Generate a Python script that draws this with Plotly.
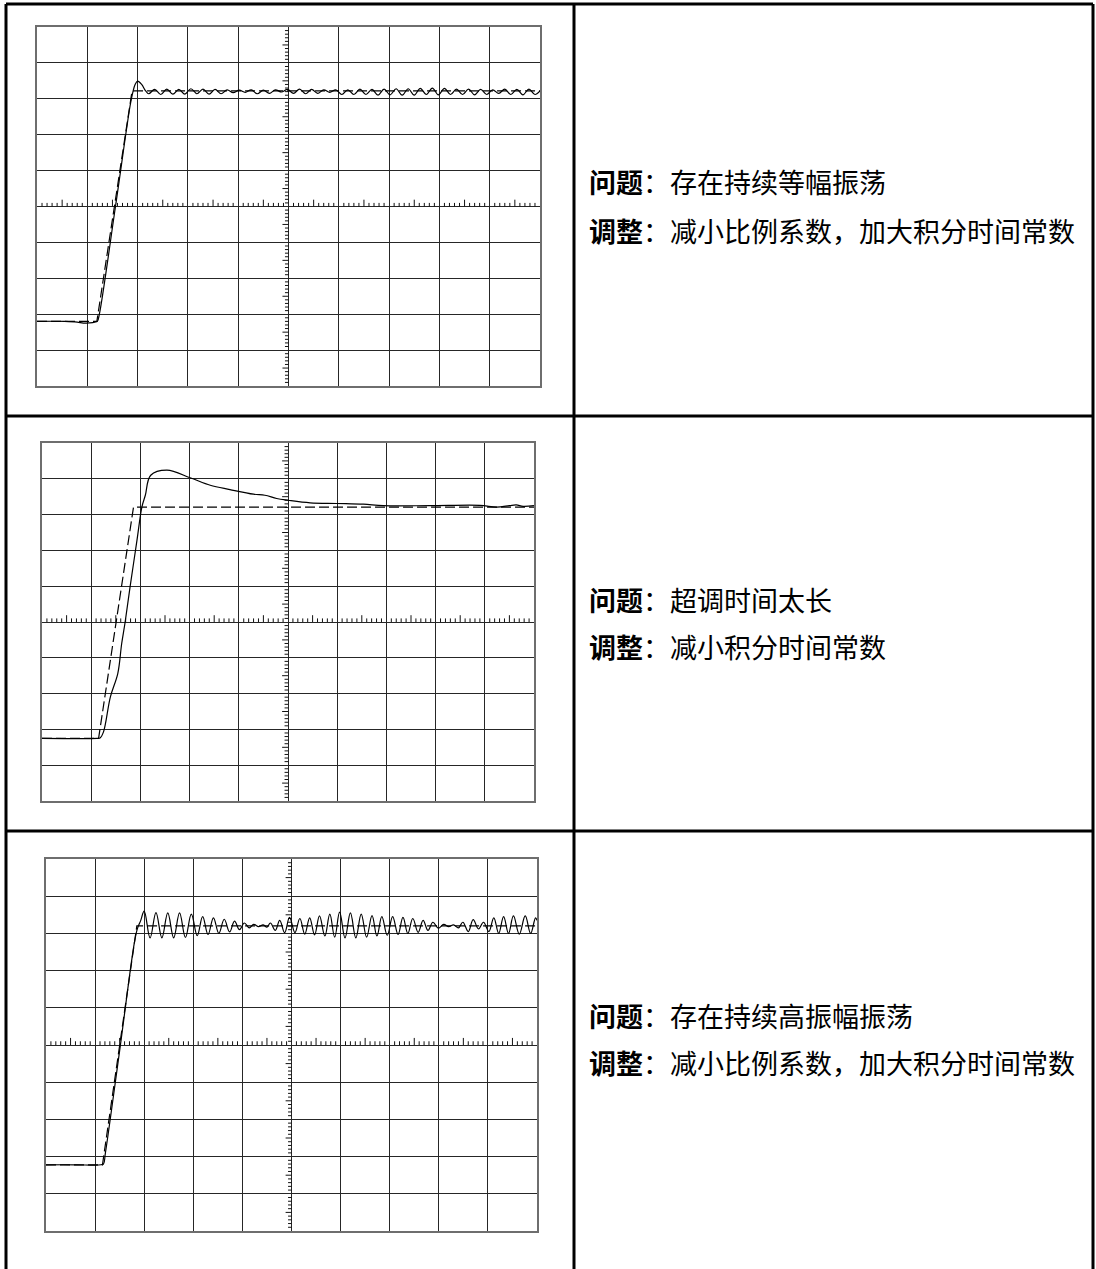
import numpy as np
import plotly.graph_objects as go

W, H = 1096, 1269

# ---------------- data (oscilloscope divisions, 10 x 10 grid) ----------------
p1_setpoint = [(0, 1.80), (1.19, 1.80), (1.89, 8.22), (10, 8.22)]
p1_response = [(0, 1.80), (0.55, 1.80), (0.80, 1.78), (0.92, 1.75), (1.05, 1.76),
               (1.15, 1.78), (1.20, 1.80), (1.24, 2.00), (1.56, 5.00), (1.85, 7.80),
               (1.90, 8.15), (1.95, 8.40), (2.00, 8.49), (2.08, 8.40), (2.16, 8.22),
               (2.22, 8.14), (2.34, 8.26),
               (2.46, 8.12), (2.58, 8.27), (2.70, 8.13), (2.82, 8.26), (2.94, 8.13),
               (3.06, 8.28), (3.18, 8.14), (3.30, 8.27), (3.42, 8.13), (3.54, 8.26),
               (3.66, 8.14), (3.78, 8.25), (3.90, 8.17), (4.02, 8.24), (4.14, 8.18),
               (4.26, 8.25), (4.38, 8.14), (4.50, 8.24), (4.62, 8.15), (4.74, 8.25),
               (4.86, 8.19), (4.98, 8.26), (5.10, 8.15), (5.22, 8.27), (5.34, 8.14),
               (5.46, 8.26), (5.58, 8.15), (5.70, 8.25), (5.82, 8.18), (5.94, 8.25),
               (6.06, 8.12), (6.18, 8.25), (6.30, 8.12), (6.42, 8.27), (6.54, 8.12),
               (6.66, 8.26), (6.78, 8.10), (6.90, 8.27), (7.02, 8.11), (7.14, 8.28),
               (7.26, 8.10), (7.38, 8.28), (7.50, 8.10), (7.62, 8.29), (7.74, 8.12),
               (7.86, 8.30), (7.98, 8.11), (8.10, 8.29), (8.22, 8.12), (8.34, 8.27),
               (8.46, 8.12), (8.58, 8.27), (8.70, 8.11), (8.82, 8.26), (8.94, 8.12),
               (9.06, 8.25), (9.18, 8.15), (9.30, 8.27), (9.42, 8.12), (9.54, 8.26),
               (9.66, 8.11), (9.78, 8.27), (9.90, 8.12), (10.0, 8.22)]

p2_setpoint = [(0, 1.75), (1.15, 1.75), (1.86, 8.21), (10, 8.21)]
p2_response = [(0, 1.75), (1.12, 1.75), (1.18, 1.76), (1.25, 1.93), (1.39, 2.91),
               (1.54, 3.56), (1.62, 4.40), (1.69, 5.00), (1.79, 5.98), (1.93, 7.28),
               (2.03, 8.21), (2.10, 8.54), (2.21, 9.10), (2.54, 9.24), (3.01, 9.03),
               (3.42, 8.82), (3.82, 8.70), (4.30, 8.57), (4.53, 8.54), (4.77, 8.45),
               (5.01, 8.40), (5.45, 8.33), (5.99, 8.31), (6.53, 8.29), (6.94, 8.25),
               (7.88, 8.25), (8.90, 8.26), (9.24, 8.21), (9.50, 8.25), (9.64, 8.27),
               (9.78, 8.23), (10.0, 8.25)]

p3_setpoint = [(0, 1.78), (1.15, 1.78), (1.85, 8.20), (10, 8.20)]
p3_response = [(0, 1.78), (0.60, 1.78), (1.00, 1.77), (1.12, 1.78), (1.17, 1.80),
               (1.21, 2.10), (1.50, 4.85), (1.80, 7.75), (1.86, 8.12), (1.93, 8.35),
               (2.00, 8.60), (2.12, 7.88), (2.24, 8.56),
               (2.36, 7.88), (2.48, 8.55), (2.60, 7.88), (2.72, 8.55), (2.84, 7.89),
               (2.96, 8.52), (3.08, 7.94), (3.19, 8.45), (3.30, 7.97), (3.41, 8.42),
               (3.52, 8.00), (3.63, 8.38), (3.74, 8.04), (3.84, 8.33), (3.94, 8.10),
               (4.04, 8.28), (4.14, 8.15), (4.23, 8.24), (4.33, 8.18), (4.42, 8.23),
               (4.50, 8.17), (4.57, 8.28), (4.67, 8.08), (4.76, 8.35), (4.86, 8.02),
               (4.96, 8.43), (5.07, 8.02), (5.17, 8.40), (5.27, 7.98), (5.37, 8.42),
               (5.47, 7.96), (5.57, 8.47), (5.68, 7.93), (5.78, 8.52), (5.88, 7.90),
               (5.98, 8.57), (6.09, 7.88), (6.20, 8.55), (6.31, 7.88), (6.42, 8.52),
               (6.53, 7.90), (6.64, 8.48), (6.74, 7.93), (6.84, 8.45), (6.95, 7.95),
               (7.06, 8.45), (7.17, 7.97), (7.27, 8.43), (7.37, 8.00), (7.47, 8.40),
               (7.58, 8.03), (7.68, 8.35), (7.78, 8.08), (7.88, 8.30), (7.99, 8.14),
               (8.10, 8.24), (8.20, 8.18), (8.30, 8.23), (8.40, 8.15), (8.49, 8.30),
               (8.60, 8.05), (8.70, 8.37), (8.81, 8.12), (8.91, 8.30), (9.02, 8.05),
               (9.12, 8.42), (9.22, 8.00), (9.32, 8.45), (9.42, 8.00), (9.52, 8.47),
               (9.64, 7.98), (9.76, 8.47), (9.87, 8.00), (9.97, 8.42), (10.0, 8.35)]

problems = ["存在持续等幅振荡", "超调时间太长", "存在持续高振幅振荡"]
adjustments = ["减小比例系数，加大积分时间常数", "减小积分时间常数", "减小比例系数，加大积分时间常数"]

# ---------------- layout geometry (pixels) ----------------
boxes = [(37, 27, 540, 386), (42, 443, 534, 801), (46, 859, 537, 1231)]
text_y = [(182, 230), (599, 646), (1015, 1062)]
TEXT_X = 587
ROW_LINES = [416, 831]
TABLE = dict(left=6, right=1093, top=4, mid=574)

def px_x(v):
    return v / W

def px_y(v):
    return 1 - v / H

fig = go.Figure()
layout = dict(width=W, height=H, margin=dict(l=0, r=0, t=0, b=0),
              paper_bgcolor="white", plot_bgcolor="white", showlegend=False)

panels = [(p1_setpoint, p1_response, 1.0), (p2_setpoint, p2_response, 1.0),
          (p3_setpoint, p3_response, 1.1)]

for i, ((l, t, r, b), (sp, resp, smooth)) in enumerate(zip(boxes, panels)):
    n = "" if i == 0 else str(i + 1)
    xa, ya = "x" + n, "y" + n
    axis_common = dict(range=[0, 10], tickvals=list(range(11)), showticklabels=False,
                       ticks="", showgrid=True, gridcolor="#262626", gridwidth=1,
                       zeroline=False, showline=True, linecolor="#6e6e6e",
                       linewidth=2, mirror=True, fixedrange=True)
    layout["xaxis" + n] = dict(axis_common, domain=[px_x(l), px_x(r)], anchor=ya)
    layout["yaxis" + n] = dict(axis_common, domain=[px_y(b), px_y(t)], anchor=xa)

    # minor division marks on the centre lines
    hx, hy, vx, vy = [], [], [], []
    for k in range(1, 100):
        if k % 10 == 0:
            continue
        v = k / 10
        big = (k % 5 == 0)
        hx += [v, v, None]
        hy += [5, 5 + (0.19 if big else 0.10), None]
        vx += [5, 5 - (0.12 if big else 0.07), None]
        vy += [v, v, None]
    fig.add_trace(go.Scatter(x=hx + vx, y=hy + vy, mode="lines", xaxis=xa, yaxis=ya,
                             line=dict(color="#111111", width=1), hoverinfo="skip"))

    fig.add_trace(go.Scatter(x=[p[0] for p in sp], y=[p[1] for p in sp], mode="lines",
                             xaxis=xa, yaxis=ya,
                             line=dict(color="black", width=1.2, dash="10px,4px")))
    fig.add_trace(go.Scatter(x=[p[0] for p in resp], y=[p[1] for p in resp], mode="lines",
                             xaxis=xa, yaxis=ya,
                             line=dict(color="black", width=1.2, shape="spline",
                                       smoothing=smooth)))

# table borders
shapes = []
lw = 3
def line(x0, y0, x1, y1):
    shapes.append(dict(type="line", xref="paper", yref="paper",
                       x0=px_x(x0), y0=px_y(y0), x1=px_x(x1), y1=px_y(y1),
                       line=dict(color="black", width=lw)))
line(TABLE["left"], TABLE["top"], TABLE["right"], TABLE["top"])
line(TABLE["left"], TABLE["top"], TABLE["left"], H + 5)
line(TABLE["right"], TABLE["top"], TABLE["right"], H + 5)
line(TABLE["mid"], TABLE["top"], TABLE["mid"], H + 5)
for yv in ROW_LINES:
    line(TABLE["left"], yv, TABLE["right"], yv)
layout["shapes"] = shapes

font = dict(family="Noto Sans CJK SC", size=27, color="black")
ann = []
for (y1, y2), prob, adj in zip(text_y, problems, adjustments):
    ann.append(dict(xref="paper", yref="paper", x=px_x(TEXT_X), y=px_y(y1),
                    xanchor="left", yanchor="middle", showarrow=False, font=font,
                    text="<b>问题</b>：" + prob))
    ann.append(dict(xref="paper", yref="paper", x=px_x(TEXT_X), y=px_y(y2),
                    xanchor="left", yanchor="middle", showarrow=False, font=font,
                    text="<b>调整</b>：" + adj))
layout["annotations"] = ann

fig.update_layout(**layout)
fig.write_html("out.html", config={"displayModeBar": False},
               post_script="document.body.style.margin='0';document.body.style.overflow='hidden';")
